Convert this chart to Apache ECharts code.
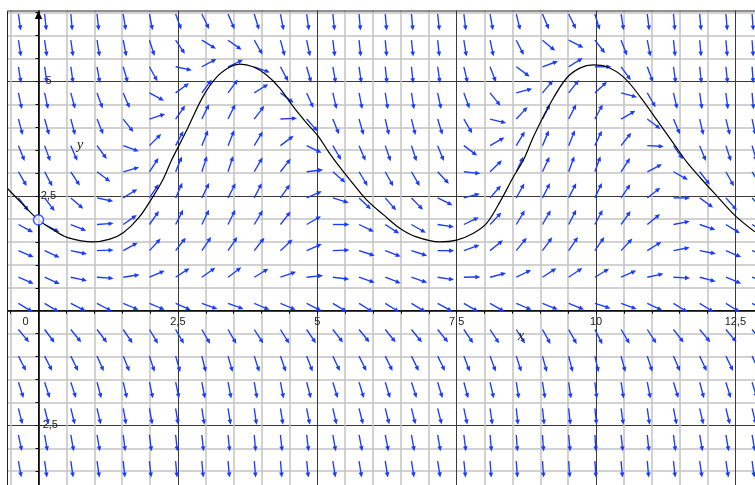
<!DOCTYPE html>
<html>
<head>
<meta charset="utf-8">
<script src="https://cdn.jsdelivr.net/npm/echarts@6/dist/echarts.min.js"></script>
<style>
html,body{margin:0;padding:0;background:#fff;}
#chart{width:755px;height:485px;}
</style>
</head>
<body>
<div id="chart"></div>
<script>
// x positions of the direction-field arrow tails (one per column)
const colX = [-0.36, 0.11, 0.58, 1.05, 1.52, 1.99, 2.46, 2.93, 3.40, 3.87, 4.34, 4.81, 5.28, 5.75, 6.22,
  6.69, 7.16, 7.63, 8.10, 8.57, 9.04, 9.51, 9.98, 10.45, 10.92, 11.39, 11.86, 12.33, 12.80];
// y positions of the arrow rows (top to bottom)
const rowY = [6.47, 5.90, 5.32, 4.75, 4.18, 3.60, 3.03, 2.46, 1.88, 1.31, 0.73, 0.16, -0.41, -0.99, -1.56, -2.13, -2.71, -3.28];
// arrow direction on screen, degrees (positive = up-right, negative = down-right), one row per rowY
const ang0  = [-82,-84,-85,-84,-81,-79,-70,-64,-67,-73,-79,-82,-84,-85,-85,-85,-84,-83,-80,-76,-67,-64,-73,-81,-83,-85,-85,-85,-86];
const ang1  = [-81,-82,-82,-81,-79,-72,-56,-31,-35,-60,-75,-78,-83,-84,-85,-84,-84,-81,-78,-63,-40,-27,-52,-69,-79,-84,-85,-85,-86];
const ang2  = [-81,-82,-82,-80,-74,-61,-12,28,25,-20,-62,-74,-80,-82,-84,-84,-82,-77,-69,-36,20,32,0,-54,-70,-82,-84,-84,-86];
const ang3  = [-78,-78,-75,-70,-67,-28,36,54,54,32,-37,-66,-77,-79,-81,-81,-78,-70,-51,15,50,52,43,-15,-60,-77,-82,-83,-85];
const ang4  = [-75,-74,-75,-68,-52,18,55,64,64,53,3,-48,-68,-74,-77,-76,-73,-60,-14,47,63,63,62,30,-37,-67,-77,-76,-78];
const ang5  = [-68,-70,-67,-54,-20,45,62,68,68,59,37,-26,-60,-67,-71,-72,-68,-37,30,59,67,68,65,52,-3,-55,-68,-72,-74];
const ang6  = [-60,-62,-57,-37,16,57,68,72,72,60,52,7,-41,-59,-61,-60,-47,-6,44,65,65,70,70,57,27,-29,-52,-61,-58];
const ang7  = [-52,-53,-41,-12,32,56,66,64,63,63,55,24,-17,-44,-49,-46,-26,15,49,61,63,63,65,56,38,0,-36,-48,-46];
const ang8  = [-28,-27,-22,4,35,55,63,64,64,59,52,30,0,-26,-33,-30,-9,26,47,59,60,63,62,55,39,11,-19,-32,-30];
const ang9  = [-23,-25,-12,2,29,47,52,56,56,52,43,24,2,-18,-21,-18,0,20,39,51,54,56,55,47,32,11,-11,-23,-20];
const ang10 = [-23,-24,-12,-4,9,23,33,35,37,31,19,6,-7,-19,-21,-19,-9,1,15,26,33,34,31,24,12,-3,-15,-22,-20];
const ang11 = [-31,-31,-27,-28,-23,-23,-24,-20,-20,-23,-23,-27,-31,-32,-32,-31,-29,-30,-30,-23,-22,-22,-18,-20,-25,-32,-32,-32,-30];
const ang12 = [-50,-53,-51,-53,-56,-59,-60,-60,-60,-57,-58,-56,-52,-51,-51,-51,-51,-56,-57,-58,-61,-61,-63,-59,-57,-52,-50,-50,-51];
const ang13 = [-63,-63,-64,-66,-68,-72,-74,-76,-74,-72,-71,-69,-65,-64,-64,-64,-64,-69,-70,-72,-75,-76,-77,-75,-72,-67,-65,-64,-65];
const ang14 = [-72,-72,-72,-75,-77,-78,-78,-79,-79,-80,-79,-75,-73,-73,-73,-72,-73,-75,-77,-81,-81,-82,-83,-81,-79,-73,-75,-73,-73];
const ang15 = [-76,-76,-76,-77,-80,-80,-81,-81,-81,-82,-81,-79,-77,-76,-76,-76,-76,-78,-82,-84,-84,-84,-84,-82,-82,-79,-77,-76,-76];
const ang16 = [-78,-80,-80,-80,-83,-83,-84,-84,-84,-85,-84,-83,-80,-79,-79,-80,-80,-83,-85,-86,-86,-85,-86,-84,-84,-83,-80,-80,-80];
const ang17 = [-80,-82,-82,-82,-84,-84,-85,-85,-85,-85,-85,-84,-81,-81,-81,-81,-81,-84,-86,-86,-86,-86,-86,-85,-85,-84,-82,-81,-82];
const angleRows = [ang0, ang1, ang2, ang3, ang4, ang5, ang6, ang7, ang8, ang9, ang10, ang11, ang12, ang13, ang14, ang15, ang16, ang17];

// solution curve
const curveX = [-0.56, -0.33, 0, 0.27, 0.51, 0.98, 1.28, 1.52, 1.80, 2.06, 2.24, 2.39, 2.66, 2.95, 3.20, 3.44, 3.61, 3.85, 4.09, 4.33,
  4.57, 4.81, 5.02, 5.20, 5.35, 5.59, 5.89, 6.19, 6.48, 6.78, 7.20, 7.50, 7.80, 8.04, 8.28, 8.52, 8.70, 8.88, 9.18, 9.47,
  9.71, 9.95, 10.19, 10.49, 10.79, 11.09, 11.39, 11.63, 11.87, 12.17, 12.49, 12.85];
const curveY = [2.67, 2.38, 1.98, 1.76, 1.60, 1.50, 1.56, 1.70, 2.03, 2.50, 2.88, 3.29, 3.94, 4.67, 5.10, 5.32, 5.38, 5.32, 5.14, 4.85,
  4.45, 4.09, 3.80, 3.47, 3.22, 2.85, 2.41, 2.09, 1.80, 1.61, 1.50, 1.54, 1.69, 1.91, 2.38, 2.92, 3.29, 3.80, 4.52, 5.07,
  5.29, 5.36, 5.32, 5.10, 4.67, 4.16, 3.65, 3.24, 2.90, 2.50, 2.08, 1.72];
// initial point
const startPoint = [0, 1.98];

const xTickLabels = { '0': '0', '2.5': '2,5', '5': '5', '7.5': '7,5', '10': '10', '12.5': '12,5' };
const yTickLabels = { '2.5': '2,5', '5': '5', '-2.5': '-2,5' };

const arrowData = [];
angleRows.forEach((row, j) => row.forEach((a, k) => arrowData.push([colX[k], rowY[j], a])));
const curveData = curveX.map((x, i) => [x, curveY[i]]);

const BLUE = '#1a3cff';
const FONT = 'Liberation Sans, Arial, sans-serif';
// grid geometry (pixel layout of the plotting frame)
const G = { left: -100.875, top: -33.175, width: 975.625, height: 573.125 };
const X0PX = 38.5, Y0PX = 310.7;

const chart = echarts.init(document.getElementById('chart'), null, { renderer: 'canvas' });
chart.setOption({
  animation: false,
  backgroundColor: '#ffffff',
  grid: { left: G.left, top: G.top, width: G.width, height: G.height, containLabel: false, outerBoundsMode: 'none', show: false },
  xAxis: {
    type: 'value', min: -2.5, max: 15, interval: 2.5, position: 'bottom',
    offset: -(G.top + G.height - Y0PX),
    axisLine: { onZero: false, lineStyle: { color: '#000', width: 1.6 } },
    axisTick: { show: true, length: 3, lineStyle: { color: '#000' } },
    minorTick: { show: true, splitNumber: 5, length: 3, lineStyle: { color: '#000' } },
    splitLine: { show: true, lineStyle: { color: '#3a3a3a', width: 1 } },
    minorSplitLine: { show: true, lineStyle: { color: '#c4c4c4', width: 1.5 } },
    axisLabel: {
      show: true, margin: 6, fontSize: 11, color: '#222', fontFamily: FONT, hideOverlap: false,
      showMinLabel: true, showMaxLabel: true,
      formatter: function (v) { const t = xTickLabels[String(+v)]; if (t === undefined) return ''; return (+v) === 0 ? '{z|0}' : t; },
      rich: { z: { padding: [0, 26, 0, 0], fontSize: 11, color: '#222', fontFamily: FONT } }
    }
  },
  yAxis: {
    type: 'value', min: -5, max: 7.5, interval: 2.5, position: 'left',
    offset: -(X0PX - G.left),
    axisLine: { onZero: false, lineStyle: { color: '#000', width: 1.6 } },
    axisTick: { show: true, length: 3, lineStyle: { color: '#000' } },
    minorTick: { show: true, splitNumber: 5, length: 3, lineStyle: { color: '#000' } },
    splitLine: { show: true, lineStyle: { color: '#3a3a3a', width: 1 } },
    minorSplitLine: { show: true, lineStyle: { color: '#c4c4c4', width: 1.5 } },
    axisLabel: {
      show: true, inside: true, align: 'center', margin: 10, fontSize: 11, color: '#222', fontFamily: FONT, hideOverlap: false,
      showMinLabel: true, showMaxLabel: true,
      formatter: function (v) { const t = yTickLabels[String(+v)]; return t === undefined ? '' : t; }
    }
  },
  series: [
    {
      type: 'custom', z: 2, clip: false, silent: true,
      data: arrowData,
      renderItem: (params, api) => {
        const p = api.coord([api.value(0), api.value(1)]);
        const a = api.value(2) * Math.PI / 180;
        const L = 16.5, H = 5, W = 2.3;
        const ux = Math.cos(a), uy = -Math.sin(a);
        const tip = [p[0] + L * ux, p[1] + L * uy];
        const base = [tip[0] - H * ux, tip[1] - H * uy];
        return {
          type: 'group',
          children: [
            { type: 'line', shape: { x1: p[0], y1: p[1], x2: base[0] + ux, y2: base[1] + uy }, style: { stroke: BLUE, lineWidth: 1.35 } },
            { type: 'polygon', shape: { points: [tip, [base[0] - W * uy, base[1] + W * ux], [base[0] + W * uy, base[1] - W * ux]] }, style: { fill: BLUE } }
          ]
        };
      }
    },
    {
      type: 'line', z: 3, data: curveData, smooth: 0.35, showSymbol: false, silent: true,
      lineStyle: { color: '#000', width: 1.2 }
    },
    {
      type: 'scatter', z: 4, data: [startPoint], symbol: 'circle', symbolSize: 10, silent: true,
      itemStyle: { color: '#ffffff', borderColor: BLUE, borderWidth: 1.6 }
    }
  ],
  graphic: [
    { type: 'rect', z: 100, shape: { x: 0, y: 0, width: 755, height: 10.5 }, style: { fill: '#fff' } },
    { type: 'rect', z: 100, shape: { x: 0, y: 0, width: 7, height: 485 }, style: { fill: '#fff' } },
    { type: 'line', z: 101, shape: { x1: 7.5, y1: 11, x2: 755, y2: 11 }, style: { stroke: '#222', lineWidth: 1 } },
    { type: 'line', z: 101, shape: { x1: 7.5, y1: 11, x2: 7.5, y2: 485 }, style: { stroke: '#222', lineWidth: 1 } },
    { type: 'polygon', z: 102, shape: { points: [[38.5, 10.5], [34.8, 19], [42.2, 19]] }, style: { fill: '#000' } },
    { type: 'text', z: 102, x: 80, y: 145, style: { text: 'y', font: 'italic 14px "Liberation Serif", serif', fill: '#222', align: 'center', verticalAlign: 'middle' } },
    { type: 'text', z: 102, x: 521, y: 336, style: { text: 'x', font: 'italic 14px "Liberation Serif", serif', fill: '#222', align: 'center', verticalAlign: 'middle' } }
  ]
});
</script>
</body>
</html>
